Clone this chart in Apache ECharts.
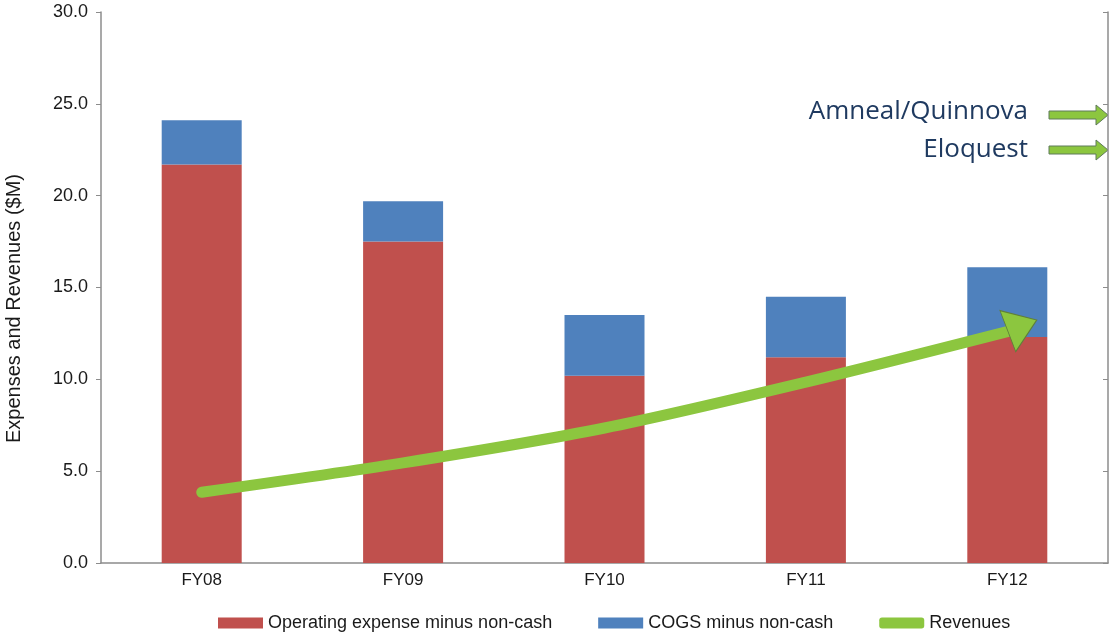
<!DOCTYPE html>
<html>
<head>
<meta charset="utf-8">
<script src="https://cdn.jsdelivr.net/npm/echarts@6/dist/echarts.min.js"></script>
<style>html,body{margin:0;padding:0;background:#fff;}#c{width:1114px;height:639px;}</style>
</head>
<body>
<div id="c"></div>
<script>
const categories = ['FY08', 'FY09', 'FY10', 'FY11', 'FY12'];
const opex = [21.7, 17.5, 10.2, 11.2, 12.3];
const cogs = [2.4, 2.2, 3.3, 3.3, 3.8];
const revenues = [3.85, 5.45, 7.35, 9.85, 12.6];
const annotations = ['Amneal/Quinnova', 'Eloquest'];

const chart = echarts.init(document.getElementById('c'));
const axisColor = '#8c8c8c';
const font = 'Liberation Sans, Arial, sans-serif';

function arrowShape(y) {
  return {
    type: 'polygon',
    shape: { points: [[1049, y - 4], [1096, y - 4], [1096, y - 10], [1108, y], [1096, y + 10], [1096, y + 4], [1049, y + 4]] },
    style: { fill: '#8cc63f', stroke: '#5f7a5a', lineWidth: 1 }
  };
}

const revData = revenues.map((v, i) => i === revenues.length - 1
  ? { value: v, symbol: 'triangle', symbolSize: [44, 31], symbolRotate: -69, symbolOffset: [15, -6],
      itemStyle: { color: '#8cc63f', borderColor: '#5f7f3a', borderWidth: 1 } }
  : { value: v, symbol: 'none' });

chart.setOption({
  backgroundColor: '#ffffff',
  animation: false,
  grid: { left: 101, right: 6, top: 12, bottom: 76, outerBoundsMode: 'none' },
  legend: {
    left: 213, bottom: 2,
    itemWidth: 45, itemHeight: 11, itemGap: 46,
    textStyle: { fontFamily: font, fontSize: 18, color: '#1a1a1a' },
    data: [
      { name: 'Operating expense minus non-cash', icon: 'rect' },
      { name: 'COGS minus non-cash', icon: 'rect' },
      { name: 'Revenues', icon: 'roundRect', itemStyle: { color: '#8cc63f' } }
    ]
  },
  xAxis: {
    type: 'category',
    data: categories,
    axisLine: { lineStyle: { color: axisColor, width: 1.5 } },
    axisTick: { show: false },
    axisLabel: { fontFamily: font, fontSize: 17, color: '#1a1a1a', margin: 9 }
  },
  yAxis: [{
    type: 'value', min: 0, max: 30, interval: 5,
    name: 'Expenses and Revenues ($M)',
    nameLocation: 'middle', nameGap: 77, nameRotate: 90,
    nameTextStyle: { fontFamily: font, fontSize: 20, color: '#1a1a1a', padding: [0, 42, 0, 0] },
    axisLine: { show: true, lineStyle: { color: axisColor, width: 1.5 } },
    axisTick: { show: true, length: 5, lineStyle: { color: axisColor } },
    axisLabel: { fontFamily: font, fontSize: 18, color: '#1a1a1a', margin: 13, formatter: v => v.toFixed(1) },
    splitLine: { show: false }
  }, {
    type: 'value', min: 0, max: 30, interval: 5, position: 'right',
    axisLine: { show: true, lineStyle: { color: axisColor, width: 1.5 } },
    axisTick: { show: true, inside: true, length: 5, lineStyle: { color: axisColor } },
    axisLabel: { show: false },
    splitLine: { show: false }
  }],
  series: [
    { name: 'Operating expense minus non-cash', type: 'bar', stack: 'exp', barWidth: 80,
      itemStyle: { color: '#c0504d' }, data: opex },
    { name: 'COGS minus non-cash', type: 'bar', stack: 'exp', barWidth: 80,
      itemStyle: { color: '#4f81bd' }, data: cogs },
    { name: 'Revenues', type: 'line', smooth: 0.3, z: 5,
      lineStyle: { color: '#8cc63f', width: 11, cap: 'round' },
      itemStyle: { color: '#8cc63f' },
      data: revData }
  ],
  graphic: [
    { type: 'text', right: 86, top: 99, style: { text: annotations[0], font: '26px "Open Sans", sans-serif', fill: '#1f3a60' } },
    { type: 'text', right: 86, top: 137, style: { text: annotations[1], font: '26px "Open Sans", sans-serif', fill: '#1f3a60' } },
    arrowShape(115),
    arrowShape(150)
  ]
});
</script>
</body>
</html>
